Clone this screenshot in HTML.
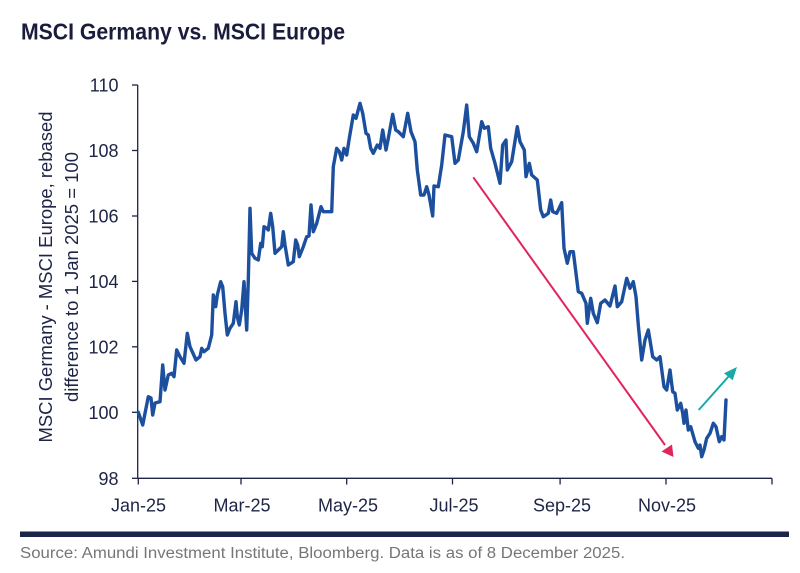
<!DOCTYPE html>
<html>
<head>
<meta charset="utf-8">
<style>
  html, body { margin:0; padding:0; background:#ffffff; }
  body { width:800px; height:573px; overflow:hidden; }
  svg { display:block; }
  text { font-family: "Liberation Sans", "DejaVu Sans", sans-serif; }
</style>
</head>
<body>
<svg width="800" height="573" viewBox="0 0 800 573" xmlns="http://www.w3.org/2000/svg">
  <rect x="0" y="0" width="800" height="573" fill="#ffffff"/>

  <!-- Title -->
  <text x="21" y="39.5" font-size="23" font-weight="bold" fill="#1b1c3c" textLength="324" lengthAdjust="spacingAndGlyphs">MSCI Germany vs. MSCI Europe</text>

  <!-- Y axis title -->
  <g fill="#1e2446" font-size="18">
    <text transform="translate(52,277) rotate(-90)" text-anchor="middle" textLength="331" lengthAdjust="spacingAndGlyphs">MSCI Germany - MSCI Europe, rebased</text>
    <text transform="translate(78,277) rotate(-90)" text-anchor="middle" textLength="250" lengthAdjust="spacingAndGlyphs">difference to 1 Jan 2025 = 100</text>
  </g>

  <!-- Axes -->
  <g stroke="#1e2446" stroke-width="1.3" fill="none">
    <line x1="137.7" y1="85" x2="137.7" y2="478.3"/>
    <line x1="137.7" y1="478.3" x2="772" y2="478.3"/>
    <!-- y ticks -->
    <line x1="132" y1="85" x2="137.7" y2="85"/>
    <line x1="132" y1="150.5" x2="137.7" y2="150.5"/>
    <line x1="132" y1="216" x2="137.7" y2="216"/>
    <line x1="132" y1="281.4" x2="137.7" y2="281.4"/>
    <line x1="132" y1="346.8" x2="137.7" y2="346.8"/>
    <line x1="132" y1="412.3" x2="137.7" y2="412.3"/>
    <line x1="132" y1="478.3" x2="137.7" y2="478.3"/>
    <!-- x ticks -->
    <line x1="138.3" y1="478.3" x2="138.3" y2="484.5"/>
    <line x1="241" y1="478.3" x2="241" y2="484.5"/>
    <line x1="346.7" y1="478.3" x2="346.7" y2="484.5"/>
    <line x1="452.5" y1="478.3" x2="452.5" y2="484.5"/>
    <line x1="560.1" y1="478.3" x2="560.1" y2="484.5"/>
    <line x1="666" y1="478.3" x2="666" y2="484.5"/>
    <line x1="772" y1="478.3" x2="772" y2="484.5"/>
  </g>

  <!-- Y tick labels -->
  <g fill="#1e2446" font-size="18" text-anchor="end">
    <text x="118.5" y="91.5">110</text>
    <text x="118.5" y="157">108</text>
    <text x="118.5" y="222.5">106</text>
    <text x="118.5" y="288">104</text>
    <text x="118.5" y="353.3">102</text>
    <text x="118.5" y="418.8">100</text>
    <text x="118.5" y="484.8">98</text>
  </g>

  <!-- X tick labels -->
  <g fill="#1e2446" font-size="18" text-anchor="middle">
    <text x="138.5" y="511.5">Jan-25</text>
    <text x="242" y="511.5">Mar-25</text>
    <text x="348" y="511.5">May-25</text>
    <text x="454" y="511.5">Jul-25</text>
    <text x="562" y="511.5">Sep-25</text>
    <text x="667" y="511.5">Nov-25</text>
  </g>

  <!-- Data line -->
  <polyline fill="none" stroke="#1c4f9e" stroke-width="3.4" stroke-linejoin="round" stroke-linecap="round"
    points="138.3,412.3 142.7,425 148.3,396.7 151,398 152.7,415 155,403 160,401.7 162.7,365 165,390 168.3,375 171.7,373.3 174,376.7 176.7,350 180,356.7 184,363.3 187.3,333.3 190,346.7 196,360 200,356.7 201.7,348.3 204,351.7 208.3,348.3 211.7,335 213.3,295 215.7,306.7 217.3,295 220.7,281.7 222.7,286.7 225,313.3 227.3,335 230,328.3 233.3,323.3 236,301.7 237.3,316.7 239.3,325 241.7,310 244,281.7 246.7,330 248.3,280 250,208.3 251.7,253.3 255,258.3 258.3,260 260.7,243.3 262.3,246.7 264,226.7 266.7,228.3 268.3,230 270.7,213.3 272.7,226.7 275,253.3 278.3,250 281.7,246.7 283.3,231.7 285,245 288.3,265 293.3,261.7 295.7,240 297.7,245 299.3,256.7 303.3,246.7 306.7,236.7 309,236 311,205 313.3,231.7 316.7,223.3 321,206.7 323.3,211.7 331.7,211.7 333.3,166.7 336.7,148.3 339.3,151.7 341.7,160 344,148.3 346.7,155 349.3,138.3 353.3,115 356,118.3 360,103.3 362.7,113.3 366,133.3 368.3,135 370.7,148.3 373.3,153.3 377.3,145 380,148.3 382.7,130 386,150 388.3,138.3 392.7,114.3 395.7,130 398.3,131.7 403.3,136.7 407.7,113.3 411,131.7 415,141.7 417.3,170 420.7,195 424,195 426.7,186.7 429,195 432.7,216 434,186 438.3,186.7 441.7,165 445,135 451.7,136.7 455,163.3 458.3,160 463.3,131.7 466.7,105 469.3,136.7 473.3,143.3 476.7,151.7 481.7,121.7 484.3,128.3 488.3,126.7 490.7,148.3 495,163.3 500,183.3 502.7,145 506,140 507.3,170 511.7,161.7 517.3,126.7 520,141.7 524.3,150 526,176.7 529.3,163.3 531.7,175 537.3,180 540.7,210 543.3,216.7 548.3,213.3 550.7,200 552.7,211.7 556.7,213.3 561.7,202.7 564,248.3 567.3,263.3 570,251.7 573.3,251.7 578.3,291.7 581.7,293.3 586,303.3 587.3,323.3 590.7,298.3 593.3,313.3 597.3,322.7 600.7,303.3 605,300 610,306 615,286 617.3,306.7 621.7,301.7 626.7,278.3 630,288.3 633.3,281.7 636,296.7 638.3,325 641.7,360 645,340 648.3,330 652.7,356.7 656.7,360 660,356.7 664,386.7 666.7,390 670,370 672.7,391.7 675,393.3 677.3,410 680.7,403.3 682.7,413.3 684,423.3 686,410 688.3,430 690.7,426.7 695,441.7 698.3,448.3 700,445 701.7,456.7 704,450 706.7,438.3 710,433.3 713.3,423.3 716,426.7 719.3,441.7 721.7,436.7 724,440 726,400"/>

  <!-- Red downward arrow -->
  <line x1="473.3" y1="177.3" x2="665" y2="445" stroke="#e2245c" stroke-width="2"/>
  <polygon points="661.5,451.5 672,444.5 673.5,457" fill="#e2245c"/>

  <!-- Teal upward arrow -->
  <line x1="698.7" y1="410" x2="729" y2="376" stroke="#1aa9a8" stroke-width="2"/>
  <polygon points="724,373.3 737,367 732.7,380.3" fill="#1aa9a8"/>

  <!-- Bottom bar -->
  <rect x="20" y="531.5" width="769" height="5.5" fill="#1b2449"/>

  <!-- Source -->
  <text x="20" y="558" font-size="15.5" fill="#767676" textLength="605" lengthAdjust="spacingAndGlyphs">Source: Amundi Investment Institute, Bloomberg. Data is as of 8 December 2025.</text>
</svg>
</body>
</html>
